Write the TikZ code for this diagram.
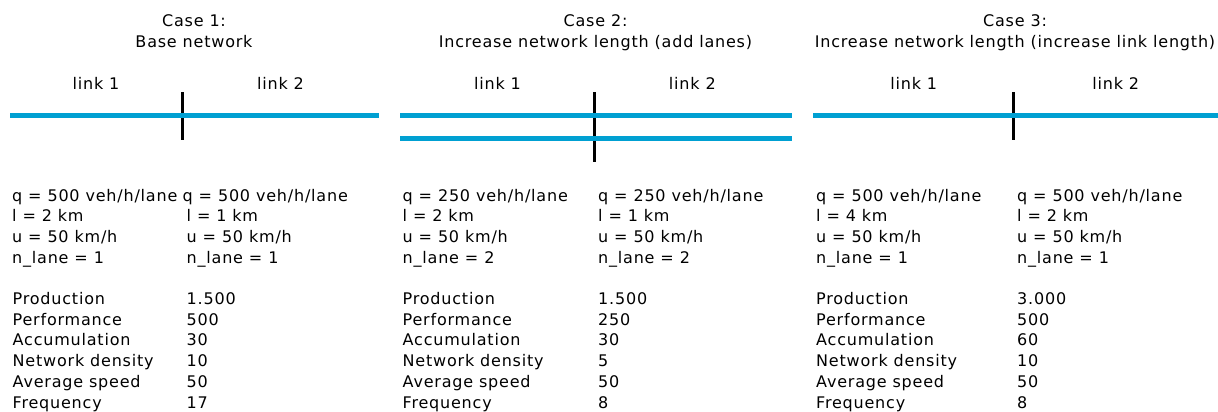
\documentclass[tikz,border=0pt]{standalone}
\usepackage{fontspec}
\setmainfont{DejaVu Sans}[LetterSpace=5]
\definecolor{roadblue}{RGB}{0,160,210}
\begin{document}
\begin{tikzpicture}[x=1pt,y=-1pt,
  txt/.style={font=\fontsize{16}{20}\selectfont, inner sep=0pt, text=black},
  lbl/.style={txt, anchor=base west},
  ctr/.style={txt, anchor=base},
  road/.style={draw=roadblue, line width=4.6pt},
  tickmark/.style={draw=black, line width=3pt}]
\useasboundingbox (0,0) rectangle (1218,412);

% ---- titles
\node[ctr] (t1a) at (194,26.7) {Case 1:};
\node[ctr] (t1b) at (194,47.7) {Base network};
\node[ctr] (t2a) at (595.5,26.7) {Case 2:};
\node[ctr] (t2b) at (595.5,47.7) {Increase network length (add lanes)};
\node[ctr] (t3a) at (1015,26.7) {Case 3:};
\node[ctr] (t3b) at (1015,47.7) {Increase network length (increase link length)};

% ---- link labels
\node[ctr] (c1l1) at (96,89.3) {link 1};
\node[ctr] (c1l2) at (280.5,89.3) {link 2};
\node[ctr] (c2l1) at (497.5,89.3) {link 1};
\node[ctr] (c2l2) at (692.3,89.3) {link 2};
\node[ctr] (c3l1) at (913.7,89.3) {link 1};
\node[ctr] (c3l2) at (1115.7,89.3) {link 2};

% ---- networks
\coordinate (c1tt) at (182.5,92);   \coordinate (c1tb) at (182.5,140);
\coordinate (c1a) at (10,115.5);    \coordinate (c1b) at (379,115.5);
\draw[tickmark] (c1tt) -- (c1tb);
\draw[road] (c1a) -- (c1b);

\coordinate (c2tt) at (594.5,92);   \coordinate (c2tb) at (594.5,162);
\coordinate (c2a) at (400,115.5);   \coordinate (c2b) at (792,115.5);
\coordinate (c2c) at (400,138.3);   \coordinate (c2d) at (792,138.3);
\draw[tickmark] (c2tt) -- (c2tb);
\draw[road] (c2a) -- (c2b);
\draw[road] (c2c) -- (c2d);

\coordinate (c3tt) at (1013.3,92);  \coordinate (c3tb) at (1013.3,140);
\coordinate (c3a) at (813,115.5);   \coordinate (c3b) at (1218,115.5);
\draw[tickmark] (c3tt) -- (c3tb);
\draw[road] (c3a) -- (c3b);

% ---- parameter rows
\foreach \t [count=\i] in {q = 500 veh/h/lane, l = 2 km, u = 50 km/h, n\_lane = 1}
  \node[lbl] (c1p\i) at (12,{201+(\i-1)*20.7}) {\t};
\node[lbl] (c1q1) at (182.5,201) {q = 500 veh/h/lane};
\foreach \t [count=\i from 2] in {l = 1 km, u = 50 km/h, n\_lane = 1}
  \node[lbl] (c1q\i) at (186.5,{201+(\i-1)*20.7}) {\t};

\foreach \t [count=\i] in {q = 250 veh/h/lane, l = 2 km, u = 50 km/h, n\_lane = 2}
  \node[lbl] (c2p\i) at (402.5,{201+(\i-1)*20.7}) {\t};
\foreach \t [count=\i] in {q = 250 veh/h/lane, l = 1 km, u = 50 km/h, n\_lane = 2}
  \node[lbl] (c2q\i) at (598,{201+(\i-1)*20.7}) {\t};

\foreach \t [count=\i] in {q = 500 veh/h/lane, l = 4 km, u = 50 km/h, n\_lane = 1}
  \node[lbl] (c3p\i) at (816,{201+(\i-1)*20.7}) {\t};
\foreach \t [count=\i] in {q = 500 veh/h/lane, l = 2 km, u = 50 km/h, n\_lane = 1}
  \node[lbl] (c3q\i) at (1017,{201+(\i-1)*20.7}) {\t};

% ---- result rows
\foreach \x/\c in {12.5/c1, 402.5/c2, 816/c3}
  \foreach \t [count=\i] in {Production, Performance, Accumulation, Network density, Average speed, Frequency}
    \node[lbl] (\c r\i) at (\x,{304.5+(\i-1)*20.7}) {\t};

\foreach \t [count=\i] in {1.500, 500, 30, 10, 50, 17}
  \node[lbl] (c1v\i) at (186.5,{304.5+(\i-1)*20.7}) {\t};
\foreach \t [count=\i] in {1.500, 250, 30, 5, 50, 8}
  \node[lbl] (c2v\i) at (598,{304.5+(\i-1)*20.7}) {\t};
\foreach \t [count=\i] in {3.000, 500, 60, 10, 50, 8}
  \node[lbl] (c3v\i) at (1017,{304.5+(\i-1)*20.7}) {\t};
\end{tikzpicture}
\end{document}
